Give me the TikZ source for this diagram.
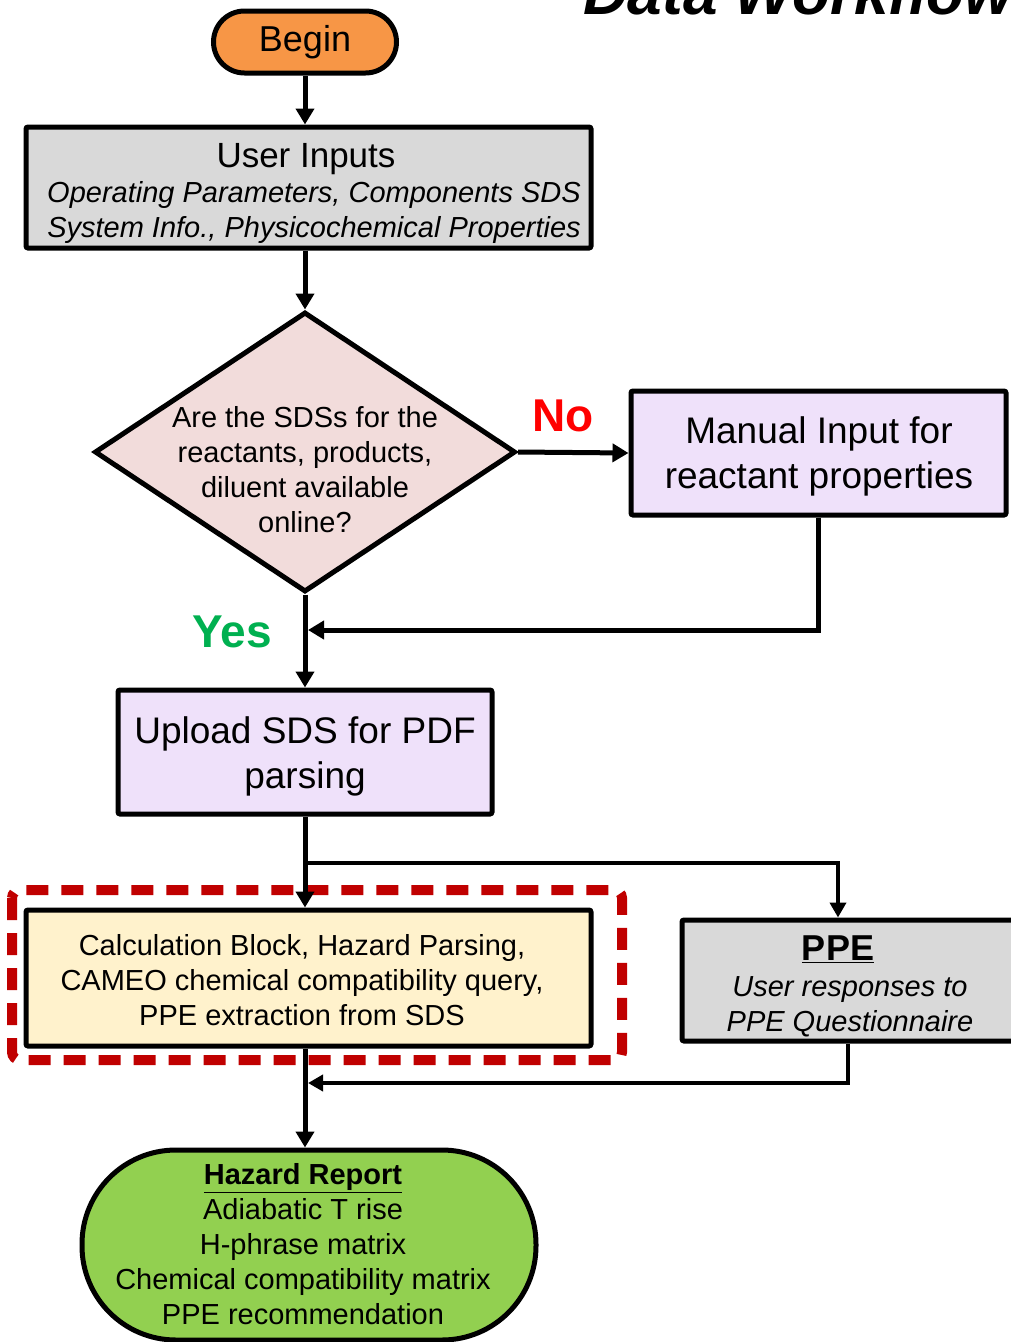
\documentclass[tikz,border=0pt]{standalone}
\usepackage{fontspec}
\setmainfont{Liberation Sans}
\usetikzlibrary{arrows.meta,shapes.geometric}
\definecolor{cBegin}{HTML}{F79646}
\definecolor{cGray}{HTML}{D9D9D9}
\definecolor{cPink}{HTML}{F2DCDB}
\definecolor{cLav}{HTML}{EFE1FA}
\definecolor{cCalc}{HTML}{FFF2CC}
\definecolor{cGreen}{HTML}{92D050}
\definecolor{cDash}{HTML}{C00000}
\definecolor{cNo}{HTML}{FF0000}
\definecolor{cYes}{HTML}{00B050}
\begin{document}
\begin{tikzpicture}[x=1pt,y=-1pt,
  box/.style={draw=black, line width=5pt, rounded corners=2pt, inner sep=0pt},
  txt/.style={inner sep=0pt, align=center},
  arr/.style={line width=5pt, -{Triangle[length=16pt,width=18pt]}},
  thinarr/.style={line width=4pt, -{Triangle[length=15pt,width=16pt]}},
  fsmall/.style={font=\fontsize{29}{35}\selectfont},
  fbig/.style={font=\fontsize{37}{45}\selectfont},
  lbl/.style={font=\fontsize{46}{55}\selectfont\bfseries, inner sep=0pt}
]
\useasboundingbox (0,0) rectangle (1011,1342);
\fill[white] (0,0) rectangle (1011,1342);

% title (cut off at top)
\node[anchor=base west, inner sep=0pt, font=\fontsize{62}{72}\selectfont\bfseries\itshape] (title) at (583,14) {Data Workflow};

% Begin
\node[box, fill=cBegin, rounded corners=31pt, minimum width=183pt, minimum height=62pt,
      font=\fontsize{36}{43}\selectfont] (begin) at (305,42) {Begin};

% User inputs
\node[box, fill=cGray, minimum width=565pt, minimum height=121pt] (ui) at (308.5,187.5) {};
\node[txt, font=\fontsize{35}{35}\selectfont] (uit) at (306,159) {User Inputs};
\node[txt, font=\fontsize{29}{35}\selectfont\itshape] (uis) at (314,212)
  {Operating Parameters, Components SDS\\System Info., Physicochemical Properties};

% decision
\node[diamond, draw=black, line width=5pt, fill=cPink, minimum width=421pt, minimum height=280pt, inner sep=0pt] (dia) at (305,452) {};
\node[txt, fsmall] (diatext) at (305,470)
  {Are the SDSs for the\\reactants, products,\\diluent available\\online?};

% manual input
\node[box, fill=cLav, minimum width=375pt, minimum height=124pt] (man) at (818.5,453) {};
\node[txt, fbig] (mant) at (819,456) {Manual Input for\\reactant properties};

% upload
\node[box, fill=cLav, minimum width=374pt, minimum height=124pt] (up) at (305,752) {};
\node[txt, fbig] (upt) at (305,756) {Upload SDS for PDF\\parsing};

% red dashed frame
\draw[cDash, line width=10pt, dash pattern=on 22pt off 13pt, rounded corners=8pt] (12,890) rectangle (622,1060);

% calculation block
\node[box, fill=cCalc, minimum width=565pt, minimum height=136pt] (calc) at (308.5,978) {};
\node[txt, fsmall] (calct) at (302,980)
  {Calculation Block, Hazard Parsing,\\CAMEO chemical compatibility query,\\PPE extraction from SDS};

% PPE
\node[box, fill=cGray, minimum width=338pt, minimum height=121pt] (ppe) at (851,980.5) {};
\node[txt, font=\fontsize{36}{36}\selectfont\bfseries] (ppeh) at (838,949) {\underline{PPE}};
\node[txt, font=\fontsize{29}{35}\selectfont\itshape] (ppet) at (850,1007)
  {User responses to\\PPE Questionnaire};

% Hazard report
\node[box, fill=cGreen, rounded corners=94pt, minimum width=454pt, minimum height=190pt] (haz) at (309,1245) {};
\node[txt, fsmall] (hazt) at (303,1244)
  {\textbf{\underline{Hazard Report}}\\Adiabatic T rise\\H-phrase matrix\\Chemical compatibility matrix\\PPE recommendation};

% labels
\node[lbl, text=cNo] (no) at (563,416) {No};
\node[lbl, text=cYes] (yes) at (232,632) {Yes};

% connectors
\coordinate (j1) at (305,630);
\coordinate (j2) at (305,863);
\coordinate (j3) at (305,1083);

\draw[arr] (begin.south) -- (begin.south |- ui.north);
\draw[arr] (dia.north |- ui.south) -- (dia.north);
\draw[arr] (dia.east) -- (man.west);
\draw[arr] (man.south) |- ([xshift=3pt]j1);
\draw[arr] (dia.south) -- (up.north);
\draw[arr] (up.south) -- (up.south |- calc.north);
\draw[thinarr] (j2) -| ([xshift=-13pt]ppe.north);
\draw[thinarr] ([xshift=-3pt]ppe.south) |- ([xshift=3pt]j3);
\draw[arr] (up.south |- calc.south) -- (up.south |- haz.north);
\end{tikzpicture}
\end{document}
